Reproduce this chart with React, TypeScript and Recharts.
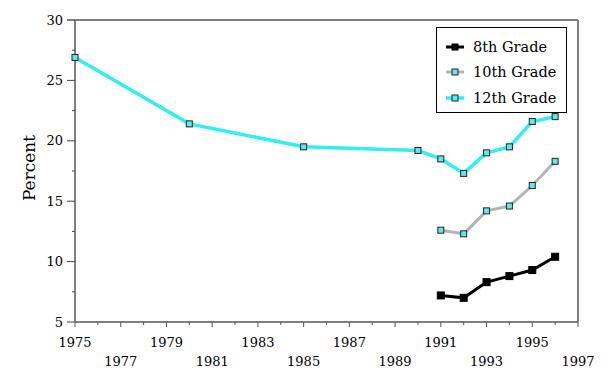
import { LineChart, Line, XAxis, YAxis, Legend, ReferenceLine } from "recharts";

const years = [1975, 1980, 1985, 1990, 1991, 1992, 1993, 1994, 1995, 1996];
const grade12 = [26.9, 21.4, 19.5, 19.2, 18.5, 17.3, 19.0, 19.5, 21.6, 22.0];
const grade10 = [null, null, null, null, 12.6, 12.3, 14.2, 14.6, 16.3, 18.3];
const grade8 = [null, null, null, null, 7.2, 7.0, 8.3, 8.8, 9.3, 10.4];

const xTicks = [
  1975, 1976, 1977, 1978, 1979, 1980, 1981, 1982, 1983, 1984, 1985, 1986,
  1987, 1988, 1989, 1990, 1991, 1992, 1993, 1994, 1995, 1996, 1997,
];
const yTicks = [5, 7.5, 10, 12.5, 15, 17.5, 20, 22.5, 25, 27.5, 30];

const data = years.map((year, i) => ({
  year,
  g12: grade12[i],
  g10: grade10[i],
  g8: grade8[i],
}));

const FONT = "'DejaVu Serif', serif";
const GRAY = "#808080";
const CYAN = "#2ef0f0";
const LIGHT = "#b4b4b4";

const XTick = (props: any) => {
  const { x, y, payload } = props;
  const yr = payload.value;
  const major = yr % 2 === 1;
  const lower = (yr - 1975) % 4 !== 0;
  return (
    <g>
      <line x1={x} x2={x} y1={y} y2={y + (major ? 5 : 3)} stroke="#555" />
      {major && (
        <text x={x} y={y + (lower ? 44 : 25)} textAnchor="middle" fontSize={13} fontFamily={FONT} fill="#000">
          {yr}
        </text>
      )}
    </g>
  );
};

const YTick = (props: any) => {
  const { x, y, payload } = props;
  const v = payload.value;
  const major = v % 5 === 0;
  return (
    <g>
      <line x1={x - (major ? 8 : 3)} x2={x} y1={y} y2={y} stroke={v === 30 ? "#000" : "#444"} />
      {major && (
        <text x={x - 12} y={y} dy="0.35em" textAnchor="end" fontSize={13} fontFamily={FONT} fill="#000">
          {v}
        </text>
      )}
    </g>
  );
};

const squareDot = (fill: string, stroke: string, size: number) => (props: any) => {
  const { cx, cy, key, value } = props;
  if (value == null || cy == null) return <g key={key} />;
  return (
    <rect key={key} x={cx - size / 2} y={cy - size / 2} width={size} height={size} fill={fill} stroke={stroke} strokeWidth={1} />
  );
};

const legendItems = [
  { label: "8th Grade", color: "#000", width: 3, fill: "#000", stroke: "#000" },
  { label: "10th Grade", color: LIGHT, width: 3, fill: "#5ee8f0", stroke: "#222" },
  { label: "12th Grade", color: CYAN, width: 3.5, fill: "#5ee8f0", stroke: "#222" },
];

const LegendBox = () => (
  <div
    style={{
      border: "1px solid #000",
      background: "#fff",
      width: 131,
      height: 86,
      boxSizing: "border-box",
      paddingTop: 6,
    }}
  >
    {legendItems.map((it) => (
      <div key={it.label} style={{ display: "flex", alignItems: "center", height: 25.5 }}>
        <svg width={36} height={12} style={{ display: "block" }}>
          <line x1={9} x2={27} y1={6} y2={6} stroke={it.color} strokeWidth={it.width} />
          <rect x={15} y={3} width={6} height={6} fill={it.fill} stroke={it.stroke} />
        </svg>
        <span style={{ fontFamily: FONT, fontSize: 14.5, color: "#000", whiteSpace: "nowrap" }}>{it.label}</span>
      </div>
    ))}
  </div>
);

export default function App() {
  return (
    <div style={{ position: "absolute", left: 0, top: 0, background: "#fff" }}>
      <LineChart width={612} height={378} data={data} margin={{ top: 20, right: 34, bottom: 0, left: 0 }}>
        <XAxis
          dataKey="year"
          type="number"
          domain={[1975, 1997]}
          ticks={xTicks}
          interval={0}
          height={56}
          tickSize={0}
          tickMargin={0}
          tickLine={false}
          axisLine={{ stroke: GRAY, strokeWidth: 2 }}
          tick={<XTick />}
        />
        <YAxis
          type="number"
          domain={[5, 30]}
          ticks={yTicks}
          interval={0}
          width={75}
          tickSize={0}
          tickMargin={0}
          tickLine={false}
          axisLine={{ stroke: GRAY, strokeWidth: 2 }}
          tick={<YTick />}
          label={{
            content: () => (
              <text x={29} y={168} transform="rotate(-90 29 168)" textAnchor="middle" dominantBaseline="central" fontSize={17} fontFamily={FONT} fill="#000">
                Percent
              </text>
            ),
          }}
        />
        <ReferenceLine y={30} stroke="#000" strokeWidth={1} />
        <ReferenceLine x={1997} stroke={GRAY} strokeWidth={2} />
        <Line
          dataKey="g12"
          stroke={CYAN}
          strokeWidth={3.5}
          dot={squareDot("#5ee8f0", "#222", 6)}
          connectNulls={false}
          isAnimationActive={false}
          type="linear"
        />
        <Line
          dataKey="g10"
          stroke={LIGHT}
          strokeWidth={3}
          dot={squareDot("#5ee8f0", "#222", 6)}
          connectNulls={false}
          isAnimationActive={false}
          type="linear"
        />
        <Line
          dataKey="g8"
          stroke="#000"
          strokeWidth={3}
          dot={squareDot("#000", "#000", 7)}
          connectNulls={false}
          isAnimationActive={false}
          type="linear"
        />
        <Legend
          layout="vertical"
          align="center"
          verticalAlign="middle"
          wrapperStyle={{ left: 436, top: 27, width: 131 }}
          content={() => <LegendBox />}
        />
      </LineChart>
    </div>
  );
}
